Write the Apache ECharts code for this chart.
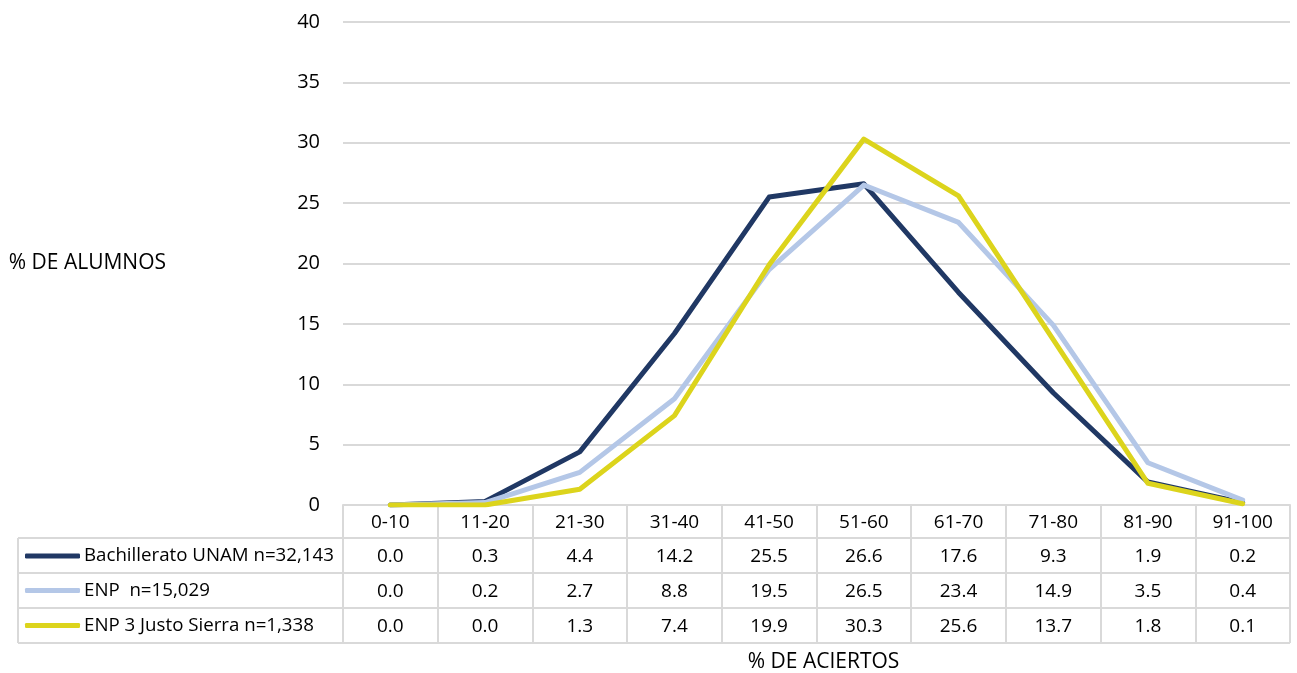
<!DOCTYPE html>
<html>
<head>
<meta charset="utf-8">
<script src="https://cdn.jsdelivr.net/npm/echarts@6/dist/echarts.min.js"></script>
<style>
html,body{margin:0;padding:0;background:#fff;}
#chart{width:1297px;height:673px;}
</style>
</head>
<body>
<div id="chart"></div>
<script>
// ---- data ----
const categories = ['0-10','11-20','21-30','31-40','41-50','51-60','61-70','71-80','81-90','91-100'];
const seriesNames = ['Bachillerato UNAM n=32,143', 'ENP  n=15,029', 'ENP 3 Justo Sierra n=1,338'];
const bachilleratoUNAM = [0.0, 0.3, 4.4, 14.2, 25.5, 26.6, 17.6, 9.3, 1.9, 0.2];
const enp = [0.0, 0.2, 2.7, 8.8, 19.5, 26.5, 23.4, 14.9, 3.5, 0.4];
const enp3 = [0.0, 0.0, 1.3, 7.4, 19.9, 30.3, 25.6, 13.7, 1.8, 0.1];
const yTicks = [0, 5, 10, 15, 20, 25, 30, 35, 40];
const yAxisTitle = '% DE ALUMNOS';
const xAxisTitle = '% DE ACIERTOS';

// ---- layout / style ----
const W = 1297, H = 673;
const GL = 343, GR = 7, GT = 22, GB = 168;
const plotRight = W - GR, plotBottom = H - GB;
const rowOffsets = [33, 68, 103];
const rowH = [33, 35, 35, 35];
const tableLeft = 18;
const tableBottom = plotBottom + 138;
const FONT = '"Open Sans", "Noto Sans", sans-serif';
const GRID_C = '#d9d9d9';
const colors = ['#203864', '#b4c7e7', '#dcd41c'];
const seriesData = [bachilleratoUNAM, enp, enp3];

const chart = echarts.init(document.getElementById('chart'), null, {renderer: 'canvas'});

function rowAxis(i) {
  const vals = seriesData[i];
  const ax = {
    type: 'category', data: categories, position: 'bottom', offset: rowOffsets[i],
    boundaryGap: true,
    axisLine: {show: true, lineStyle: {color: GRID_C, width: 2}},
    axisTick: {show: true, interval: 0, length: rowH[i + 1], lineStyle: {color: GRID_C, width: 2}},
    axisLabel: {show: true, interval: 0, margin: 9.5, fontSize: 19, color: '#000', fontFamily: FONT,
      formatter: (v, idx) => vals[idx].toFixed(1)},
    splitLine: {show: false}
  };
  if (i === 2) {
    ax.name = xAxisTitle;
    ax.nameLocation = 'middle';
    ax.nameGap = 44;
    ax.nameTextStyle = {fontSize: 21, color: '#000', fontFamily: FONT, padding: [0, 0, 0, 14]};
  }
  return ax;
}

const rowCenters = [556, 590.5, 625.5];

const option = {
  animation: false,
  backgroundColor: '#fff',
  grid: {left: GL, right: GR, top: GT, bottom: GB, containLabel: false, outerBoundsMode: 'none'},
  legend: seriesNames.map((n, i) => ({
    data: [n], orient: 'horizontal', left: 25, top: rowCenters[i] - 11,
    padding: 0, icon: 'roundRect', itemWidth: 55, itemHeight: 5,
    selectedMode: false,
    textStyle: {fontSize: 18.7, color: '#000', fontFamily: FONT, lineHeight: 22, padding: [0, 0, 0, -1]}
  })),
  xAxis: [
    {
      type: 'category', data: categories, position: 'bottom', boundaryGap: true,
      axisLine: {show: true, lineStyle: {color: GRID_C, width: 2}},
      axisTick: {show: true, interval: 0, length: rowH[0], lineStyle: {color: GRID_C, width: 2}},
      axisLabel: {show: true, interval: 0, margin: 8, fontSize: 19, color: '#000', fontFamily: FONT},
      splitLine: {show: false}
    },
    rowAxis(0), rowAxis(1), rowAxis(2)
  ],
  yAxis: {
    type: 'value', min: yTicks[0], max: yTicks[yTicks.length - 1], interval: yTicks[1] - yTicks[0],
    axisLine: {show: false}, axisTick: {show: false},
    axisLabel: {fontSize: 20, color: '#000', fontFamily: FONT, margin: 23},
    splitLine: {lineStyle: {color: GRID_C, width: 2}},
    name: yAxisTitle, nameLocation: 'middle', nameRotate: 0, nameGap: 177,
    nameTextStyle: {fontSize: 21, color: '#000', fontFamily: FONT, align: 'right', verticalAlign: 'middle'}
  },
  series: seriesNames.map((n, i) => ({
    name: n, type: 'line', xAxisIndex: 0, data: seriesData[i],
    symbol: 'none', color: colors[i],
    itemStyle: {color: colors[i]},
    lineStyle: {color: colors[i], width: 5, join: 'round', cap: 'round'},
    emphasis: {disabled: true}, z: 2 + i
  })),
  graphic: [
    ...[plotBottom + 33, plotBottom + 68, plotBottom + 103].map(y => ({
      type: 'line', silent: true,
      shape: {x1: tableLeft, y1: y, x2: GL, y2: y},
      style: {stroke: GRID_C, lineWidth: 2}
    })),
    {type: 'line', silent: true, shape: {x1: tableLeft, y1: tableBottom, x2: plotRight, y2: tableBottom},
      style: {stroke: GRID_C, lineWidth: 2}},
    {type: 'line', silent: true, shape: {x1: tableLeft, y1: plotBottom + 33, x2: tableLeft, y2: tableBottom},
      style: {stroke: GRID_C, lineWidth: 2}}
  ]
};
chart.setOption(option);
</script>
</body>
</html>
